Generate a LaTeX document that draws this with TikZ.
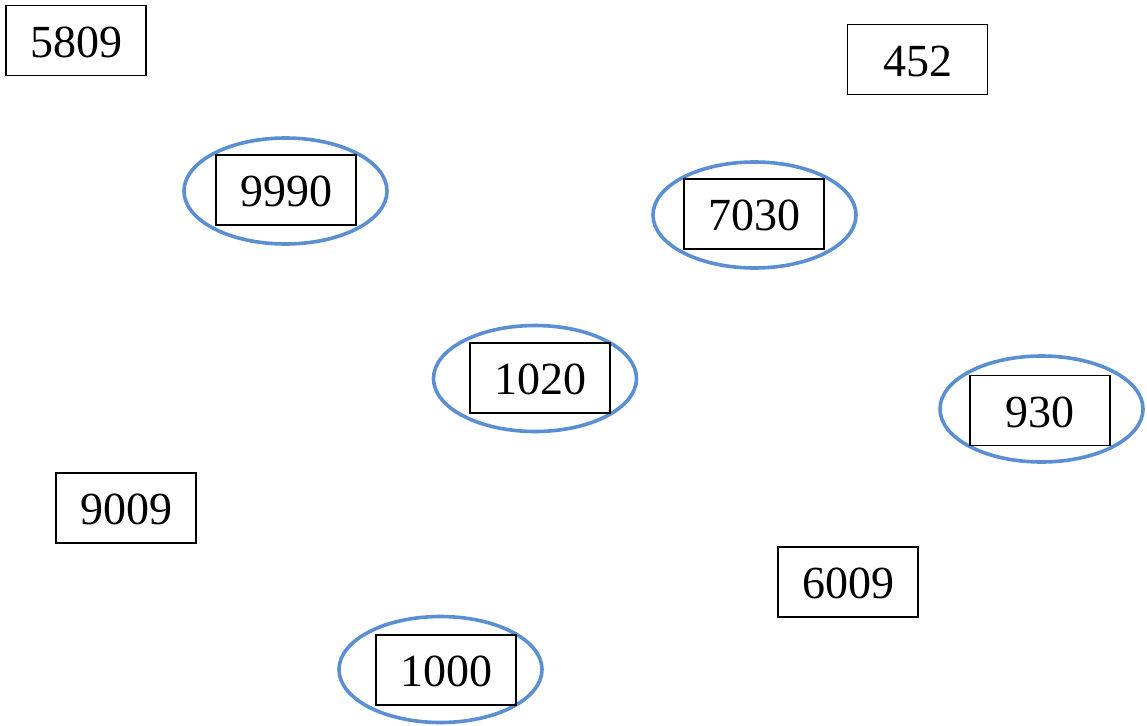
\documentclass[tikz,border=0pt]{standalone}
\usepackage{fontspec}
\setmainfont{Liberation Serif}
\usetikzlibrary{shapes.geometric}
\definecolor{ringblue}{RGB}{91,143,212}
\tikzset{
  numbox/.style={draw=black, line width=1.2pt, rectangle, minimum width=140pt, minimum height=70pt,
    inner sep=0pt, font=\fontsize{46}{50}\selectfont, text height=33pt, text depth=0pt},
  ring/.style={draw=ringblue, line width=3.6pt, ellipse, minimum width=203pt, minimum height=106pt, inner sep=0pt}
}
\begin{document}
\begin{tikzpicture}[x=1pt,y=-1pt]
\useasboundingbox (0,0) rectangle (1147,725);
\node[ring] (r9990) at (285.5,191) {};
\node[ring] (r7030) at (754.5,215) {};
\node[ring] (r1020) at (535,378.5) {};
\node[ring] (r930) at (1041.5,409) {};
\node[ring] (r1000) at (440.5,669.5) {};
\node[numbox] (n5809) at (76,40.5) {5809};
\node[numbox] (n452) at (917.5,59.5) {452};
\node[numbox] (n9990) at (286,190) {9990};
\node[numbox] (n7030) at (754,214) {7030};
\node[numbox] (n1020) at (540,378) {1020};
\node[numbox] (n930) at (1040,410.5) {930};
\node[numbox] (n9009) at (126,508) {9009};
\node[numbox] (n6009) at (848,582) {6009};
\node[numbox] (n1000) at (446,670) {1000};
\end{tikzpicture}
\end{document}
